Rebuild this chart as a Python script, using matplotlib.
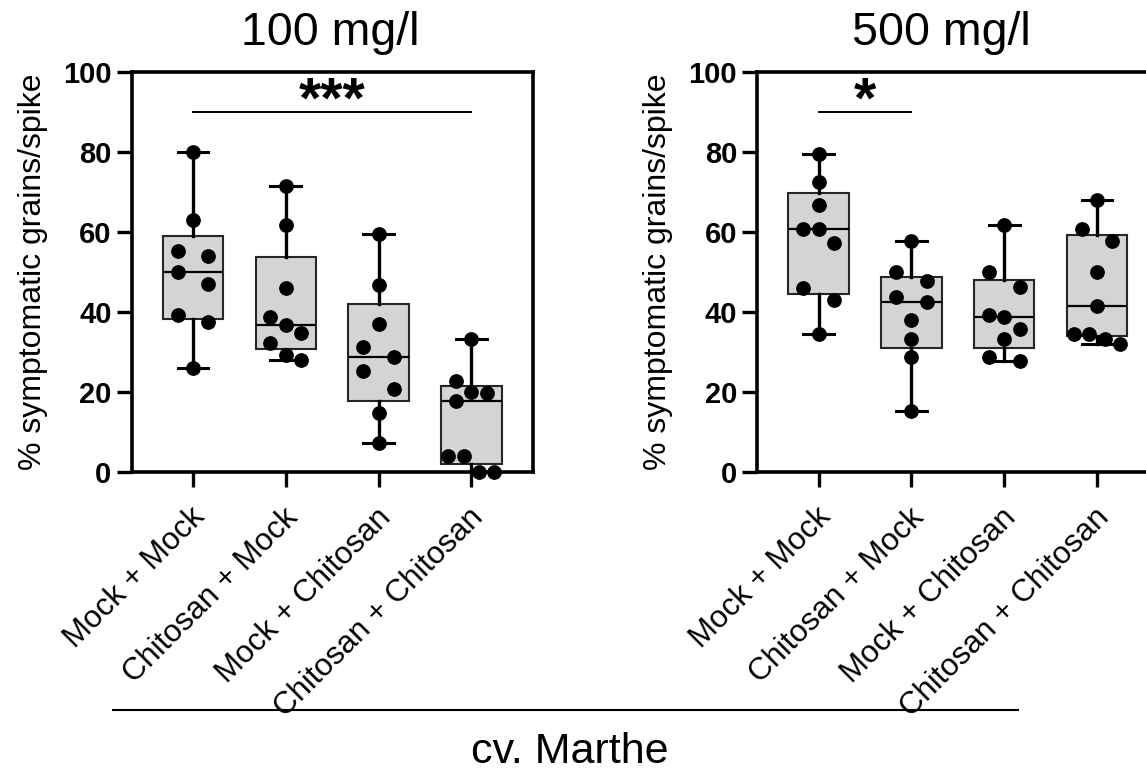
import numpy as np
import matplotlib
matplotlib.use("Agg")
import matplotlib.pyplot as plt
from matplotlib.lines import Line2D
from matplotlib.transforms import ScaledTranslation

plt.rcParams['font.family'] = ['Liberation Sans', 'DejaVu Sans']

groups = ['Mock + Mock', 'Chitosan + Mock', 'Mock + Chitosan', 'Chitosan + Chitosan']

# % symptomatic grains/spike, cv. Marthe, 100 mg/l
mock_mock_100 = [80.0, 62.9, 55.2, 53.9, 50.0, 46.9, 39.2, 37.4, 26.0]
chitosan_mock_100 = [71.4, 61.6, 45.9, 38.8, 36.7, 34.7, 32.2, 29.2, 28.0]
mock_chitosan_100 = [59.4, 46.7, 37.0, 31.2, 28.6, 25.1, 20.8, 14.8, 7.3]
chitosan_chitosan_100 = [33.3, 22.8, 20.0, 19.6, 17.8, 3.9, 3.9, 0.0, 0.0]

# same, 500 mg/l
mock_mock_500 = [79.4, 72.4, 66.8, 60.7, 60.7, 57.2, 45.9, 42.9, 34.5]
chitosan_mock_500 = [57.6, 50.0, 47.6, 43.7, 42.4, 38.0, 33.3, 28.6, 15.3]
mock_chitosan_500 = [61.7, 50.0, 46.1, 39.2, 38.6, 35.8, 33.3, 28.6, 27.6]
chitosan_chitosan_500 = [67.9, 60.7, 57.6, 50.0, 41.4, 34.5, 34.5, 33.3, 32.0]

# significance brackets: (group a, group b, stars)
sig_100 = [(0, 3, '***')]
sig_500 = [(0, 1, '*')]
sig_level = 90

W, H, DPI = 1146, 772, 100
MSIZE = 9.6

fig = plt.figure(figsize=(W / DPI, H / DPI), dpi=DPI)


def px_rect(left, top, right, bottom):
    return [left / W, 1 - bottom / H, (right - left) / W, (bottom - top) / H]


def swarm(values, ax, msize, span=4.5, spread=1.15):
    # prism-like spreading: bin points into rows, centre each row, nudge on overlap
    vals = np.asarray(values, float)
    bb = ax.get_window_extent()
    x0, x1 = ax.get_xlim()
    y0, y1 = ax.get_ylim()
    sx = bb.width / (x1 - x0)
    sy = bb.height / (y1 - y0)
    diam = msize * fig.dpi / 72
    lane = spread * diam / sx
    order = np.argsort(-vals, kind='stable')
    offs = np.zeros(len(vals))
    placed = []
    i = 0
    while i < len(order):
        j = i
        while j + 1 < len(order) and vals[order[i]] - vals[order[j + 1]] <= span:
            j += 1
        row = order[i:j + 1]
        k = len(row)
        if k == 1:
            patterns = [np.array([0.0]), np.array([-1.0]), np.array([1.0])]
        else:
            half = max(1.0, (k - 1) / 2)
            patterns = [np.linspace(-half, half, k), np.linspace(-half - 0.5, half + 0.5, k)]
        for pat in patterns:
            ok = all(np.hypot((p - q) * lane * sx, (vals[r] - v) * sy) >= diam
                     for p, r in zip(pat, row) for q, v in placed)
            if ok:
                break
        for p, r in zip(pat, row):
            offs[r] = p * lane
            placed.append((p, vals[r]))
        i = j + 1
    return offs


def panel(ax, data, sigs):
    ax.set_xlim(-0.66, 3.66)
    ax.set_ylim(0, 100)
    pos = np.arange(len(data))
    stats = []
    for vals in data:
        q1, med, q3 = np.percentile(vals, [25, 50, 75], method='weibull')
        stats.append(dict(med=med, q1=q1, q3=q3, whislo=min(vals), whishi=max(vals), fliers=[]))
    ax.bxp(stats, positions=pos, widths=0.65, capwidths=0.33, patch_artist=True,
           showfliers=False, manage_ticks=False,
           boxprops=dict(facecolor='#d4d4d4', edgecolor='#262626', linewidth=1.5),
           medianprops=dict(color='black', linewidth=1.6),
           whiskerprops=dict(color='black', linewidth=2.4),
           capprops=dict(color='black', linewidth=2.2))
    for x, vals in zip(pos, data):
        offs = swarm(vals, ax, MSIZE)
        ax.plot(x + offs, vals, 'o', color='black', ms=MSIZE, zorder=4, clip_on=False)

    for a, b, stars in sigs:
        ax.plot([a, b], [sig_level, sig_level], color='black', lw=1.4)
        ax.text((a + b) / 2, sig_level - 1.5, stars, ha='center', va='baseline',
                fontsize=41, fontweight='bold')

    for sp in ax.spines.values():
        sp.set_linewidth(2.6)
    ax.set_yticks(range(0, 101, 20))
    ax.tick_params(axis='both', direction='out', length=11, width=2.4)
    ax.tick_params(axis='y', labelsize=21, pad=3.5)
    for lab in ax.get_yticklabels():
        lab.set_fontweight('bold')
    ax.set_xticks(pos)
    ax.set_xticklabels(groups, fontsize=22.5, rotation=45, ha='right', va='top',
                       rotation_mode='anchor')
    ax.tick_params(axis='x', pad=11)
    shift = ScaledTranslation(-3 / DPI, 0, fig.dpi_scale_trans)
    for lab in ax.get_xticklabels():
        lab.set_transform(lab.get_transform() + shift)
    ax.set_ylabel('% symptomatic grains/spike', fontsize=23)
    ax.yaxis.set_label_coords(-0.209, 0.5)


ax1 = fig.add_axes(px_rect(131.7, 71.7, 532.7, 471.7))
ax2 = fig.add_axes(px_rect(757.3, 71.7, 1158.3, 471.7))

panel(ax1, [mock_mock_100, chitosan_mock_100, mock_chitosan_100, chitosan_chitosan_100], sig_100)
panel(ax2, [mock_mock_500, chitosan_mock_500, mock_chitosan_500, chitosan_chitosan_500], sig_500)

fig.text(330 / W, 1 - 45 / H, '100 mg/l', ha='center', va='baseline', fontsize=33.5)
fig.text(941.7 / W, 1 - 45 / H, '500 mg/l', ha='center', va='baseline', fontsize=33.5)

fig.add_artist(Line2D([113.3 / W, 1018.3 / W], [1 - 710 / H, 1 - 710 / H], color='black', lw=1.5))
fig.text(570 / W, 1 - 763 / H, 'cv. Marthe', ha='center', va='baseline', fontsize=31)

fig.savefig('out.png', dpi=DPI)
